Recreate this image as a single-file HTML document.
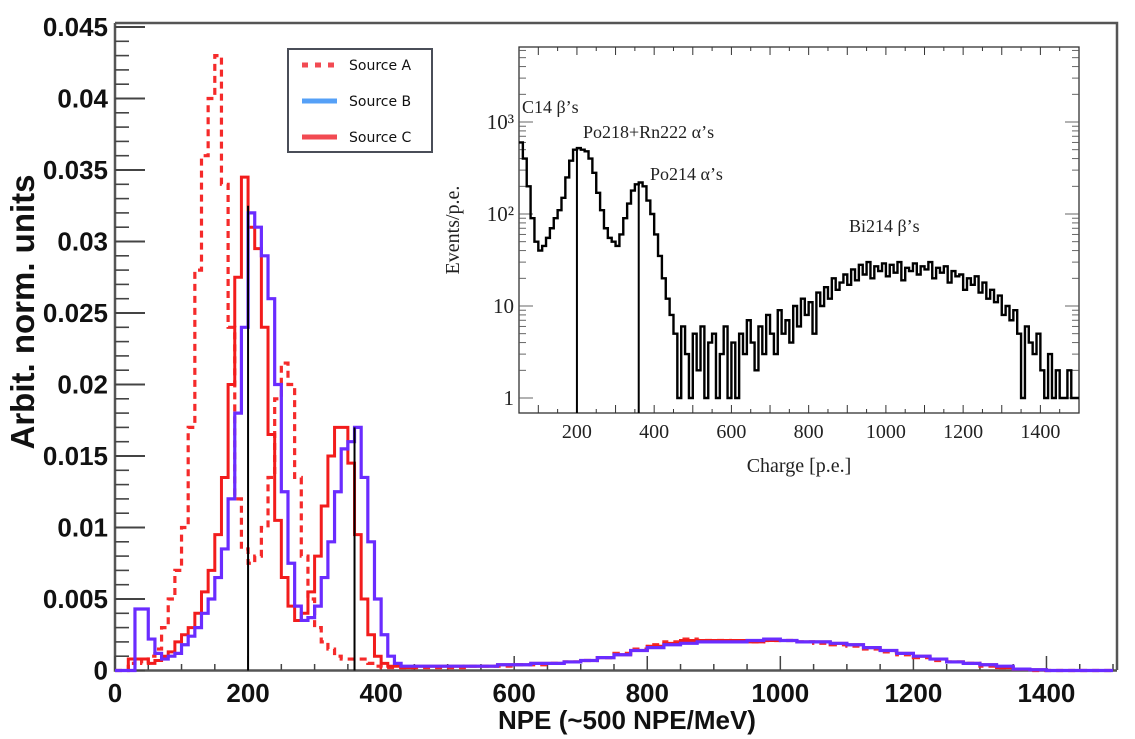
<!DOCTYPE html>
<html><head><meta charset="utf-8">
<style>
html,body{margin:0;padding:0;background:#fff;}
svg{display:block;}
.tk{font-family:"Liberation Sans",sans-serif;font-weight:bold;font-size:26px;fill:#111;}
.ser{font-family:"Liberation Serif",serif;font-size:18px;fill:#222;}
.leg{font-family:"DejaVu Sans","Liberation Sans",sans-serif;font-size:14px;fill:#111;}
</style></head>
<body>
<svg id="chart" width="1135" height="739" viewBox="0 0 1135 739"></svg>
<script>
// ---- main chart data ----
const lowStart = 0, lowWidth = 10;     // bins 0..440
const tailStart = 450, tailWidth = 25; // bins 450..1475
const sourceCLow = [0,0,0.0008,0.0008,0.0008,0.0005,0.0007,0.001,0.0013,0.002,0.0025,0.003,0.004,0.0055,0.007,0.0095,0.0135,0.02,0.0275,0.0345,0.031,0.0295,0.024,0.0165,0.0105,0.0065,0.0045,0.0035,0.004,0.0055,0.008,0.0115,0.015,0.017,0.017,0.0145,0.0095,0.005,0.0025,0.001,0.0005,0.0003,0.0003,0.0002,0.0002];
const sourceBLow = [0,0,0,0.0043,0.0043,0.0022,0.0012,0.0008,0.001,0.0012,0.0018,0.0024,0.003,0.004,0.005,0.0065,0.0085,0.012,0.018,0.024,0.032,0.031,0.029,0.026,0.02,0.0125,0.0075,0.0045,0.0035,0.0037,0.0045,0.0065,0.009,0.0125,0.0155,0.016,0.017,0.0135,0.009,0.005,0.0025,0.001,0.0005,0.0003,0.0003];
const sourceALow = [0,0,0.0005,0.0008,0.0005,0.001,0.0015,0.003,0.005,0.007,0.01,0.017,0.028,0.036,0.04,0.043,0.034,0.024,0.012,0.0085,0.0075,0.008,0.01,0.0135,0.019,0.0215,0.02,0.0135,0.008,0.005,0.003,0.002,0.0015,0.001,0.0008,0.0008,0.0008,0.0008,0.0005,0.0003,0.0002,0.0002,0.0002,0.0002,0.0002];
const sourceCTail = [0.0003,0.0003,0.0003,0.0003,0.0003,0.0004,0.0004,0.0005,0.0005,0.0006,0.0007,0.0009,0.0011,0.0014,0.0017,0.0019,0.0021,0.0021,0.0021,0.0021,0.002,0.0021,0.0021,0.002,0.002,0.0019,0.0018,0.0016,0.0014,0.0012,0.001,0.0008,0.0006,0.0005,0.0004,0.0002,0.0001,0.00005,0,0,0,0];
const sourceBTail = [0.0003,0.0003,0.0003,0.0003,0.0003,0.0004,0.0004,0.0005,0.0005,0.0006,0.0007,0.0009,0.0011,0.0014,0.0016,0.0018,0.0019,0.002,0.002,0.002,0.0021,0.0022,0.0021,0.002,0.002,0.0019,0.0018,0.0016,0.0014,0.0012,0.001,0.0008,0.0006,0.0005,0.0004,0.0003,0.0001,0.00005,0,0,0,0];
const sourceATail = [0.0002,0.0002,0.0002,0.0003,0.0003,0.0003,0.0004,0.0004,0.0005,0.0006,0.0007,0.0009,0.0012,0.0015,0.0018,0.002,0.0022,0.0021,0.0021,0.002,0.002,0.0021,0.0021,0.002,0.0019,0.0018,0.0017,0.0015,0.0013,0.0011,0.0009,0.0007,0.0006,0.0005,0.0003,0.0002,0.0001,0,0,0,0,0];
const yTickLabels = ["0","0.005","0.01","0.015","0.02","0.025","0.03","0.035","0.04","0.045"];
const yTickValues = [0,0.005,0.01,0.015,0.02,0.025,0.03,0.035,0.04,0.045];
const xTickValues = [0,200,400,600,800,1000,1200,1400];
const markerLines = [200,360];
const markerHeights = [0.0325,0.017];
// ---- inset data ----
const insetStart = 50, insetWidth = 10;
const insetCounts = [600,400,200,90,50,40,45,55,70,90,110,150,250,380,500,520,500,480,400,280,170,110,70,55,50,45,60,90,130,180,210,220,200,140,100,60,35,20,12,8,
5,1,6,3,1,5,2,6,1,4,5,1,3,6,1,4,
1,5,3,7,4,2,6,3,8,5,
3,9,5,7,4,10,6,12,8,11,
5,14,10,16,12,20,15,18,22,17,
25,19,28,22,30,20,27,24,29,21,
28,23,30,19,26,24,29,22,27,25,
30,20,26,23,27,18,24,21,22,15,
20,17,21,14,18,12,15,11,13,8,
10,7,9,5,1,6,4,3,5,2,
1,3,1,2,1,1,2,1,1];
const insetYTicks = [1,10,100,1000];
const insetYLabels = ["1","10","10²","10³"];
const insetXTicks = [200,400,600,800,1000,1200,1400];
const insetMarkers = [200,360];
const insetMarkerVals = [520,220];

const NS="http://www.w3.org/2000/svg";
const svg=document.getElementById('chart');
function mk(tag,attrs,parent){const e=document.createElementNS(NS,tag);for(const k in attrs)e.setAttribute(k,attrs[k]);(parent||svg).appendChild(e);return e;}

const X0=115,X1=1113,Y0=670.5,Ymax=27;
const xs=v=>X0+(v/1500)*(X1-X0);
const ys=v=>Y0-(v/0.045)*(Y0-Ymax);

const frame=mk('path',{d:`M115,23 L1117,23 L1117,670 M115,23 L115,670.5 L1117,670.5`,fill:'none',stroke:'#555','stroke-width':2.5});



for(let i=0;i<=45;i++){
  const v=i*0.001, y=ys(v), major=i%5===0;
  const t=mk('line',{x1:115,x2:115+(major?30:14),y1:y,y2:y,stroke:'#444','stroke-width':major?2:1.6});
  
  
}
yTickLabels.forEach((lab,i)=>{
  const t=mk('text',{x:108,y:ys(yTickValues[i])+9,'text-anchor':'end',class:'tk'});
  t.textContent=lab;
  
  
});
for(let v=0;v<=1500;v+=50){
  const major=v%200===0;
  const t=mk('line',{x1:xs(v),x2:xs(v),y1:670,y2:670-(major?14:6),stroke:'#444','stroke-width':1.5});
  
  
}
xTickValues.forEach(v=>{
  const t=mk('text',{x:xs(v),y:702,'text-anchor':'middle',class:'tk'});
  t.textContent=String(v);
  
  
});
const xt=mk('text',{x:627,y:729,'text-anchor':'middle',class:'tk',style:'font-size:26px'});
xt.textContent='NPE (~500 NPE/MeV)';


const yt=mk('text',{x:0,y:0,'text-anchor':'middle',class:'tk',transform:'translate(34,312) rotate(-90)',style:'font-size:33px'});
yt.textContent='Arbit. norm. units';



function histPath(low,tail){
  let d=`M${xs(lowStart)},${ys(0)}`;
  low.forEach((v,i)=>{const a=lowStart+i*lowWidth;d+=` L${xs(a)},${ys(v)} L${xs(a+lowWidth)},${ys(v)}`;});
  tail.forEach((v,i)=>{const a=tailStart+i*tailWidth;d+=` L${xs(a)},${ys(v)} L${xs(a+tailWidth)},${ys(v)}`;});
  return d;
}
const pA=mk('path',{d:histPath(sourceALow,sourceATail),fill:'none',stroke:'#f52a2a','stroke-width':3.2,'stroke-dasharray':'7,5'});


const pC=mk('path',{d:histPath(sourceCLow,sourceCTail),fill:'none',stroke:'#f21c1c','stroke-width':3});


const pB=mk('path',{d:histPath(sourceBLow,sourceBTail),fill:'none',stroke:'#6a2cff','stroke-width':3.2});


markerLines.forEach((v,i)=>{
  const l=mk('line',{x1:xs(v),x2:xs(v),y1:ys(markerHeights[i]),y2:Y0,stroke:'#000','stroke-width':2});
  
  
});

const lg=mk('g',{});


mk('rect',{x:288,y:49,width:144,height:103,fill:'#fff',stroke:'#4a4e58','stroke-width':2},lg);
const legItems=[['Source A','#f24a52','6,7'],['Source B','#55a0f7',''],['Source C','#f24a52','']];
legItems.forEach((it,i)=>{
  const y=65+i*36;
  const ln=mk('line',{x1:302,x2:337,y1:y,y2:y,stroke:it[1],'stroke-width':5},lg);
  if(it[2])ln.setAttribute('stroke-dasharray',it[2]);
  
  
  const t=mk('text',{x:349,y:y+5,class:'leg'},lg);
  t.textContent=it[0];
  
  
});

const IX0=519,IX1=1079,IYb=413,IYt=47;
const ixs=v=>IX0+(v-50)/(1500-50)*(IX1-IX0);
const iys=v=>398-Math.log10(Math.max(v,0.8))*92;
const ig=mk('g',{});


mk('rect',{x:IX0,y:IYt,width:IX1-IX0,height:IYb-IYt,fill:'#fff',stroke:'#333','stroke-width':1.3},ig);
for(let v=100;v<=1500;v+=50){
  const big=v%100===0;
  mk('line',{x1:ixs(v),x2:ixs(v),y1:IYb,y2:IYb-(big?8:4),stroke:'#333','stroke-width':1},ig);
  mk('line',{x1:ixs(v),x2:ixs(v),y1:IYt,y2:IYt+(big?8:4),stroke:'#333','stroke-width':1},ig);
}
for(let d=0;d<4;d++){for(let m=1;m<10;m++){const v=m*Math.pow(10,d);const y=iys(v);if(y<IYt)continue;
  mk('line',{x1:IX0,x2:IX0+(m===1?14:7),y1:y,y2:y,stroke:'#555','stroke-width':0.9},ig);
  mk('line',{x1:IX1,x2:IX1-(m===1?14:7),y1:y,y2:y,stroke:'#555','stroke-width':0.9},ig);}}
insetYTicks.forEach((v,i)=>{
  const t=mk('text',{x:514,y:iys(v)+7,'text-anchor':'end',class:'ser',style:'font-size:21px'},ig);
  t.textContent=insetYLabels[i];
  
  
});
insetXTicks.forEach(v=>{
  const t=mk('text',{x:ixs(v),y:438,'text-anchor':'middle',class:'ser',style:'font-size:20px'},ig);
  t.textContent=String(v);
  
  
});
const ixt=mk('text',{x:799,y:472,'text-anchor':'middle',class:'ser',style:'font-size:20px'},ig);
ixt.textContent='Charge [p.e.]';


const iyt=mk('text',{x:0,y:0,'text-anchor':'middle',class:'ser',style:'font-size:20px',transform:'translate(459,230) rotate(-90)'},ig);
iyt.textContent='Events/p.e.';


let idp='';
insetCounts.forEach((v,i)=>{const a=insetStart+i*insetWidth;const y=Math.min(iys(v),IYb);idp+=(i?' L':'M')+`${ixs(a)},${y} L${ixs(a+insetWidth)},${y}`;});
const ip=mk('path',{d:idp,fill:'none',stroke:'#000','stroke-width':2.4},ig);


insetMarkers.forEach((v,i)=>{
  const l=mk('line',{x1:ixs(v),x2:ixs(v),y1:iys(insetMarkerVals[i]),y2:IYb,stroke:'#000','stroke-width':2},ig);
  
  
});
const anns=[['C14 β’s',522,113],['Po218+Rn222 α’s',583,138],['Po214 α’s',650,180],['Bi214 β’s',849,232]];
anns.forEach(a=>{
  const t=mk('text',{x:a[1],y:a[2],class:'ser'},ig);
  t.textContent=a[0];
  
  
});
</script>
</body></html>
